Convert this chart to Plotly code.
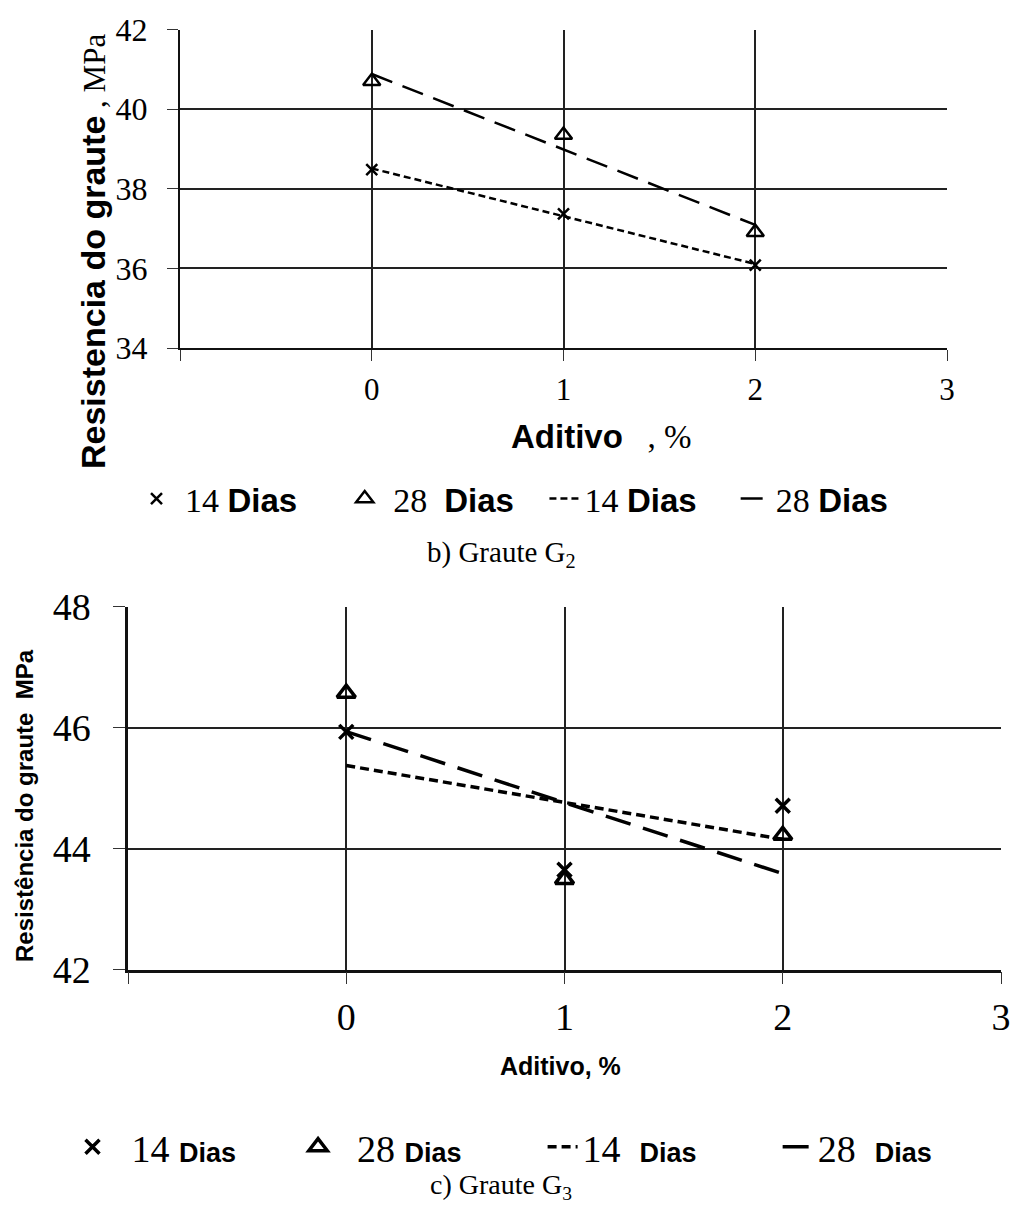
import numpy as np
import plotly.graph_objects as go

W, H = 1011, 1205

# ---------------- data ----------------
aditivo = [0, 1, 2]
# Graute G2
g2_14 = [38.48, 37.37, 36.08]
g2_28 = [40.70, 39.35, 36.91]
# Graute G3
g3_14 = [45.93, 43.65, 44.71]
g3_28 = [46.57, 43.49, 44.22]

x_tickvals = [-1, 0, 1, 2, 3]
x_ticktext = ["", "0", "1", "2", "3"]
g2_yticks = [34, 36, 38, 40, 42]
g3_yticks = [42, 44, 46, 48]

SERIF = "Liberation Serif"
SANS = "Liberation Sans"
NB = "\u00a0"


def trend(xs, ys):
    k, b = np.polyfit(xs, ys, 1)
    return [k * x + b for x in xs]


def px(x):
    return x / W


def py(y):
    return 1 - y / H


def dias(size):
    return f"<span style='font-family:{SANS};font-size:{size}px'><b>Dias</b></span>"


fig = go.Figure()

# ---------- chart 1 (G2) ----------
fig.add_trace(go.Scatter(x=aditivo, y=g2_14, mode="markers", xaxis="x", yaxis="y",
                         name=NB + f"14 {dias(33)}" + NB * 5, legend="legend",
                         marker=dict(symbol="x-thin-open", size=11, color="black",
                                     line=dict(width=2.5, color="black"))))
fig.add_trace(go.Scatter(x=aditivo, y=g2_28, mode="markers", xaxis="x", yaxis="y",
                         name=NB + f"28  {dias(33)}" + NB * 3, legend="legend",
                         marker=dict(symbol="triangle-up-open", size=15, color="black",
                                     line=dict(width=2.5, color="black"))))
fig.add_trace(go.Scatter(x=aditivo, y=trend(aditivo, g2_14), mode="lines", xaxis="x", yaxis="y",
                         name=f"14 {dias(33)}" + NB * 4, legend="legend",
                         line=dict(color="black", width=2.5, dash="7px,4px")))
fig.add_trace(go.Scatter(x=aditivo, y=trend(aditivo, g2_28), mode="lines", xaxis="x", yaxis="y",
                         name=f"28 {dias(33)}", legend="legend",
                         line=dict(color="black", width=2.5, dash="22px,11px")))

# ---------- chart 2 (G3) ----------
fig.add_trace(go.Scatter(x=aditivo, y=g3_14, mode="markers", xaxis="x2", yaxis="y2",
                         name=NB * 2 + f"14 {dias(27)}" + NB * 6, legend="legend2",
                         marker=dict(symbol="x-thin-open", size=14, color="black",
                                     line=dict(width=3.5, color="black"))))
fig.add_trace(go.Scatter(x=aditivo, y=g3_28, mode="markers", xaxis="x2", yaxis="y2",
                         name=NB * 2 + f"28 {dias(27)}" + NB * 8, legend="legend2",
                         marker=dict(symbol="triangle-up-open", size=16, color="black",
                                     line=dict(width=3.5, color="black"))))
fig.add_trace(go.Scatter(x=aditivo, y=trend(aditivo, g3_14), mode="lines", xaxis="x2", yaxis="y2",
                         name=f"14 {NB}{dias(27)}" + NB * 8, legend="legend2",
                         line=dict(color="black", width=3.5, dash="9px,5px")))
fig.add_trace(go.Scatter(x=aditivo, y=trend(aditivo, g3_28), mode="lines", xaxis="x2", yaxis="y2",
                         name=f"28 {NB}{dias(27)}", legend="legend2",
                         line=dict(color="black", width=3.5, dash="26px,13px")))

common_x = dict(range=[-1, 3], tickmode="array", tickvals=x_tickvals, ticktext=x_ticktext,
                showgrid=True, gridcolor="#222", zeroline=False, showline=True,
                linecolor="#111", ticks="outside", tickcolor="#333",
                automargin=False)
common_y = dict(showgrid=True, gridcolor="#222", zeroline=False, showline=True,
                linecolor="#111", ticks="outside", tickcolor="#333", automargin=False)

fig.update_layout(
    width=W, height=H,
    margin=dict(l=0, r=0, t=0, b=0, pad=0, autoexpand=False),
    paper_bgcolor="white", plot_bgcolor="white",
    font=dict(family=SERIF, color="black"),
    xaxis=dict(common_x, domain=[px(180), px(947)], anchor="y", ticklen=11,
               tickfont=dict(family=SERIF, size=31), ticklabelstandoff=2,
               gridwidth=1.5, linewidth=2),
    yaxis=dict(common_y, domain=[py(348), py(29.5)], anchor="x", range=[34, 42], ticklen=11,
               tickvals=g2_yticks, tickfont=dict(family=SERIF, size=32),
               ticklabelstandoff=13, gridwidth=1.5, linewidth=2),
    xaxis2=dict(common_x, domain=[px(128), px(1001)], anchor="y2", ticklen=12,
                tickfont=dict(family=SERIF, size=38), ticklabelstandoff=0,
                gridwidth=2, linewidth=2.5),
    yaxis2=dict(common_y, domain=[py(969.5), py(606.7)], anchor="x2", range=[42, 48], ticklen=12,
                tickvals=g3_yticks, tickfont=dict(family=SERIF, size=38),
                ticklabelstandoff=15, gridwidth=2, linewidth=2.5),
    legend=dict(orientation="h", x=px(515), xanchor="center", y=py(499), yanchor="middle",
                font=dict(family=SERIF, size=34), bgcolor="rgba(0,0,0,0)",
                itemsizing="trace", tracegroupgap=0),
    legend2=dict(orientation="h", x=px(505), xanchor="center", y=py(1147), yanchor="middle",
                 font=dict(family=SERIF, size=38), bgcolor="rgba(0,0,0,0)",
                 itemsizing="trace", tracegroupgap=0),
    showlegend=True,
)

ann = [
    # chart 1 axis titles
    dict(x=px(93), y=py(252),
         text=f"<span style='font-family:{SANS};font-size:34px'><b>Resistencia do graute</b></span> , MPa",
         textangle=-90, font=dict(family=SERIF, size=31)),
    dict(x=px(601), y=py(436),
         text=f"<span style='font-family:{SANS}'><b>Aditivo</b></span>   , %",
         font=dict(family=SERIF, size=33)),
    dict(x=px(501), y=py(554), text="b) Graute G<sub>2</sub>", font=dict(family=SERIF, size=29)),
    # chart 2 axis titles
    dict(x=px(24), y=py(806), text="<b>Resistência do graute  MPa</b>", textangle=-90,
         font=dict(family=SANS, size=24)),
    dict(x=px(560), y=py(1066), text="<b>Aditivo, %</b>", font=dict(family=SANS, size=25)),
    dict(x=px(501), y=py(1186), text="c) Graute G<sub>3</sub>", font=dict(family=SERIF, size=28)),
]
for a in ann:
    a.update(xref="paper", yref="paper", showarrow=False, xanchor="center", yanchor="middle")
fig.update_layout(annotations=ann)

fig.write_html("out.html")
